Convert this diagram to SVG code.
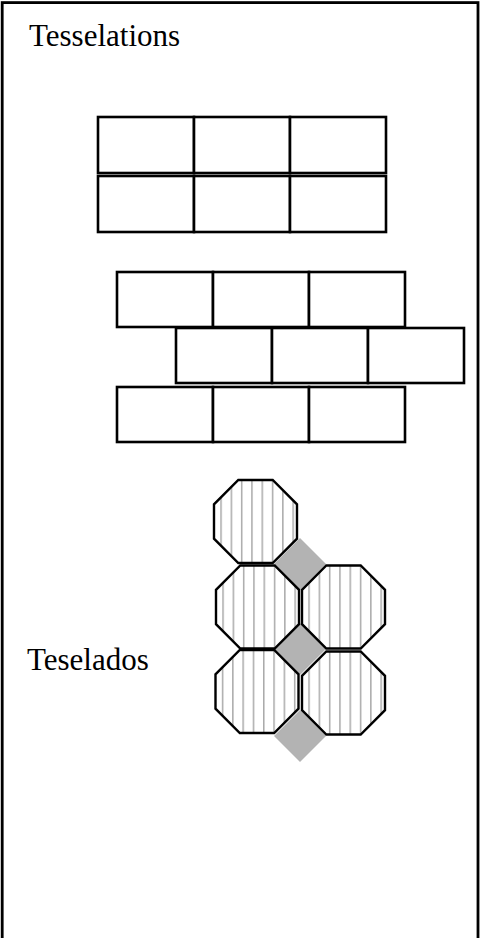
<svg xmlns="http://www.w3.org/2000/svg" width="480" height="938" viewBox="0 0 480 938">
<style>
.t{font-family:"Liberation Serif","Times New Roman",serif;font-size:31px;fill:#000}
.tile{fill:#fff;stroke:#000;stroke-width:2.6}
.oct{fill:url(#hatch);stroke:#000;stroke-width:2.4}
.sq{fill:#b3b3b3;stroke:none}
</style>
<defs>
<pattern id="hatch" patternUnits="userSpaceOnUse" x="222.6" y="0" width="10.3" height="10">
<rect x="0" y="0" width="10.3" height="10" fill="#fff"/>
<rect x="0" y="0" width="1.5" height="10" fill="#aaaaaa"/>
</pattern>
<polygon id="octagon" points="24.3,0 58.7,0 83,24.3 83,58.7 58.7,83 24.3,83 0,58.7 0,24.3"/>
</defs>
<rect id="frame" x="2.2" y="2.6" width="475.8" height="960" fill="#fff" stroke="#000" stroke-width="2.8"/>
<text id="title" class="t" x="29" y="46">Tesselations</text>
<text id="label" class="t" x="27" y="670">Teselados</text>
<g id="grid">
<rect class="tile" x="98" y="117" width="96" height="56"/>
<rect class="tile" x="194" y="117" width="96" height="56"/>
<rect class="tile" x="290" y="117" width="96" height="56"/>
<rect class="tile" x="98" y="176" width="96" height="56"/>
<rect class="tile" x="194" y="176" width="96" height="56"/>
<rect class="tile" x="290" y="176" width="96" height="56"/>
</g>
<g id="bricks">
<rect class="tile" x="117" y="272" width="96" height="55"/>
<rect class="tile" x="213" y="272" width="96" height="55"/>
<rect class="tile" x="309" y="272" width="96" height="55"/>
<rect class="tile" x="176" y="328" width="96" height="55"/>
<rect class="tile" x="272" y="328" width="96" height="55"/>
<rect class="tile" x="368" y="328" width="96" height="55"/>
<rect class="tile" x="117" y="387" width="96" height="55"/>
<rect class="tile" x="213" y="387" width="96" height="55"/>
<rect class="tile" x="309" y="387" width="96" height="55"/>
</g>
<g id="octagons">
<polygon id="sq1" class="sq" points="300,538 326,564 300,590 274,564"/>
<polygon id="sq2" class="sq" points="300,623 326,649 300,675 274,649"/>
<polygon id="sq3" class="sq" points="300,710 326,736 300,762 274,736"/>
<use id="oct1" href="#octagon" class="oct" x="214" y="480"/>
<use id="oct2" href="#octagon" class="oct" x="216" y="565.5"/>
<use id="oct3" href="#octagon" class="oct" x="302" y="565.5"/>
<use id="oct4" href="#octagon" class="oct" x="215.5" y="650"/>
<use id="oct5" href="#octagon" class="oct" x="302" y="651.5"/>
</g>
</svg>
